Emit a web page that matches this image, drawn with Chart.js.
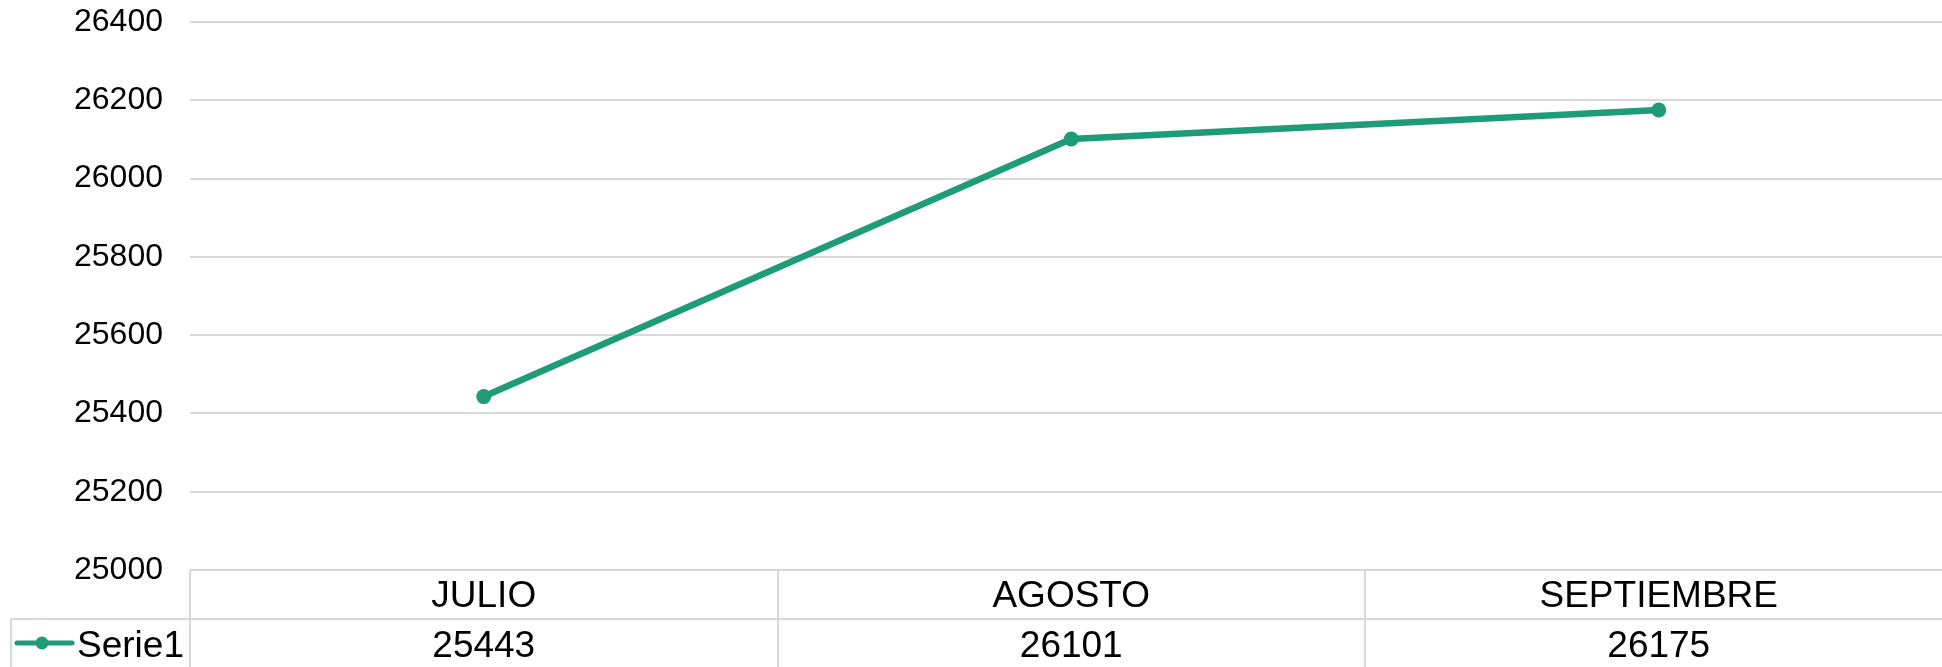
<!DOCTYPE html>
<html>
<head>
<meta charset="utf-8">
<script src="https://cdn.jsdelivr.net/npm/chart.js@4.4.1/dist/chart.umd.min.js"></script>
<style>
html,body{margin:0;padding:0;background:#fff;overflow:hidden;}
#wrap{width:1960px;height:667px;position:relative;}
</style>
</head>
<body>
<div id="wrap"><canvas id="c" width="1960" height="667"></canvas></div>
<script>
const categories = ['JULIO', 'AGOSTO', 'SEPTIEMBRE'];
const serie1 = [25443, 26101, 26175];
const seriesName = 'Serie1';
const yMin = 25000, yMax = 26400, yStep = 200;

const LINE_COLOR = '#1e9c77';
const GRID_COLOR = '#d9d9d9';
const FONT = '"Liberation Sans", Arial, sans-serif';
const AXIS_FONT_SIZE = 32;
const TABLE_FONT_SIZE = 37;

const tablePlugin = {
  id: 'dataTable',
  afterDraw(chart) {
    const ctx = chart.ctx;
    const x = chart.scales.x;
    const area = chart.chartArea;
    const rowH = 49;
    const top = area.bottom;
    const mid = top + rowH;
    const bottom = chart.height;
    const n = categories.length;
    const half = (x.getPixelForValue(1) - x.getPixelForValue(0)) / 2;
    ctx.save();
    ctx.strokeStyle = GRID_COLOR;
    ctx.lineWidth = 2;
    for (let i = 0; i < n; i++) {
      const lx = Math.round(x.getPixelForValue(i) - half);
      ctx.beginPath(); ctx.moveTo(lx, top); ctx.lineTo(lx, bottom); ctx.stroke();
    }
    ctx.beginPath(); ctx.moveTo(11, mid); ctx.lineTo(chart.width, mid); ctx.stroke();
    ctx.beginPath(); ctx.moveTo(11, mid); ctx.lineTo(11, bottom); ctx.stroke();
    ctx.fillStyle = '#000';
    ctx.font = TABLE_FONT_SIZE + 'px ' + FONT;
    ctx.textAlign = 'center';
    ctx.textBaseline = 'alphabetic';
    for (let i = 0; i < n; i++) {
      const cx = x.getPixelForValue(i);
      ctx.fillText(categories[i], cx, top + 37);
      ctx.fillText(String(serie1[i]), cx, mid + 38);
    }
    const ly = mid + 24;
    ctx.strokeStyle = LINE_COLOR;
    ctx.lineWidth = 5;
    ctx.lineCap = 'round';
    ctx.beginPath(); ctx.moveTo(17, ly); ctx.lineTo(72, ly); ctx.stroke();
    ctx.fillStyle = LINE_COLOR;
    ctx.beginPath(); ctx.arc(42, ly, 6.5, 0, Math.PI * 2); ctx.fill();
    ctx.fillStyle = '#000';
    ctx.textAlign = 'left';
    ctx.fillText(seriesName, 77, mid + 38);
    ctx.restore();
  }
};

new Chart(document.getElementById('c'), {
  type: 'line',
  data: {
    labels: categories,
    datasets: [{
      label: seriesName,
      data: serie1,
      borderColor: LINE_COLOR,
      backgroundColor: LINE_COLOR,
      borderWidth: 6.5,
      pointRadius: 7.5,
      pointHoverRadius: 7.5,
      pointBackgroundColor: LINE_COLOR,
      pointBorderWidth: 0,
      tension: 0
    }]
  },
  options: {
    responsive: false,
    animation: false,
    events: [],
    layout: { padding: { top: 22, bottom: 97, right: 3, left: 0 } },
    plugins: { legend: { display: false }, tooltip: { enabled: false } },
    scales: {
      x: { display: false, offset: true },
      y: {
        min: yMin, max: yMax,
        ticks: {
          stepSize: yStep,
          padding: 27,
          color: '#000',
          font: { family: FONT, size: AXIS_FONT_SIZE },
          callback: (v) => String(v)
        },
        grid: { color: GRID_COLOR, lineWidth: 2, drawTicks: false },
        border: { display: false },
        afterFit(scale) {
          scale.width = 190;
          scale.paddingTop = 0;
          scale.paddingBottom = 0;
        }
      }
    }
  },
  plugins: [tablePlugin]
});
</script>
</body>
</html>
